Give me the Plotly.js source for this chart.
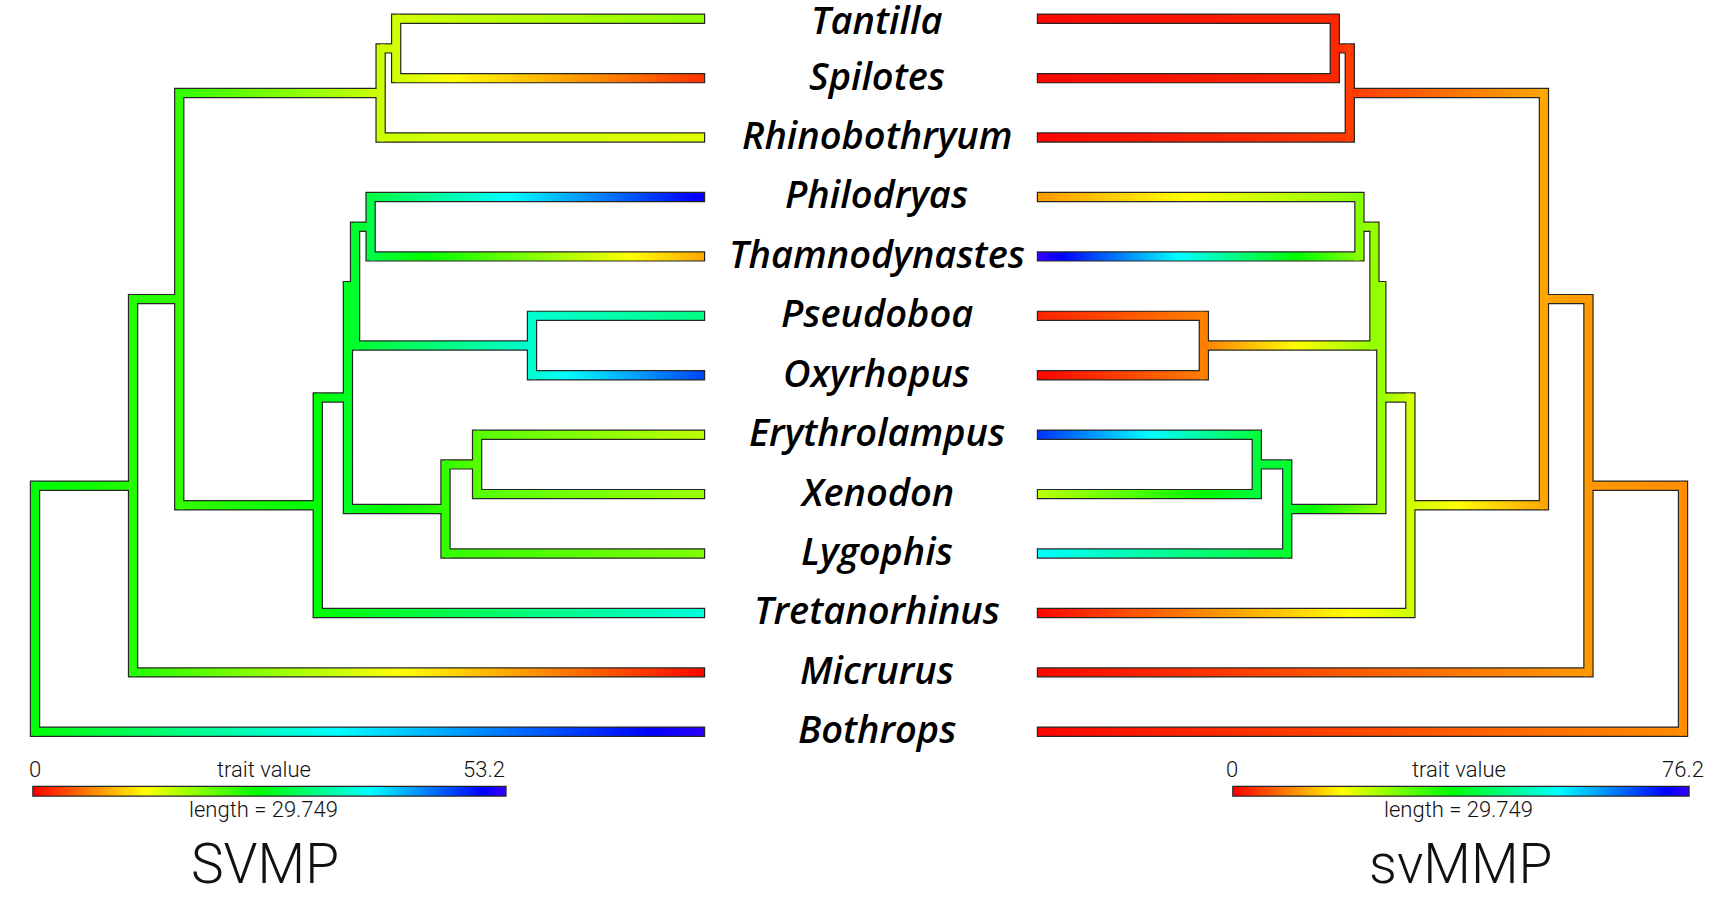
<!DOCTYPE html>
<html><head><meta charset="utf-8">
<script src="https://cdn.plot.ly/plotly-3.0.1.min.js"></script>
<style>html,body{margin:0;padding:0;background:#fff;}#chart{width:1718px;height:899px;}</style>
</head><body><div id="chart"></div>
<script>
// ---------------- data ----------------
const tipNames = ['Tantilla','Spilotes','Rhinobothryum','Philodryas','Thamnodynastes','Pseudoboa','Oxyrhopus','Erythrolampus','Xenodon','Lygophis','Tretanorhinus','Micrurus','Bothrops'];
const tipDepth = 42.16;
const nodeNames = ['root','nMic','nB','nC','nD','nE','nF','nG','nH','nI','nJ','nK'];
const nodeDepth = [0, 6.18, 9.09, 21.78, 22.76, 17.82, 19.72, 20.17, 21.15, 31.32, 25.87, 27.86];
const edgeParent = ['root','root','nMic','nMic','nB','nB','nC','nC','nD','nD','nE','nE','nF','nF','nG','nG','nH','nH','nI','nI','nJ','nJ','nK','nK'];
const edgeChild = ['nMic','Bothrops','nB','Micrurus','nC','nE','nD','Rhinobothryum','Tantilla','Spilotes','nF','Tretanorhinus','nG','nJ','nH','nI','Philodryas','Thamnodynastes','Pseudoboa','Oxyrhopus','nK','Lygophis','Erythrolampus','Xenodon'];
const svmpTips = [18.4, 2.5, 14.3, 51.3, 8.2, 31.8, 47.3, 16.0, 17.7, 19.0, 36.3, 0.3, 52.8];
const svmpNodes = [25.8, 23.6, 22.8, 15.2, 15.0, 25.5, 27.0, 27.6, 28.7, 35.7, 22.8, 21.1];
const svmmpTips = [0.3, 0.3, 0.3, 10.9, 76.2, 2.4, 0.2, 69.0, 23.0, 54.4, 0.4, 0.5, 0.3];
const svmmpNodes = [10.0, 10.9, 11.8, 4.2, 2.8, 21.5, 25.4, 25.8, 26.6, 9.1, 39.6, 40.5];
const svmpMax = 53.2;
const svmmpMax = 76.2;
const scaleLength = 29.749;
const traitNames = ['SVMP', 'svMMP'];

// ---------------- style / layout constants ----------------
const W = 1718, H = 899;
// pixel placement of each tree (root pixel, tip pixel)
const rootPxL = 35, tipPxL = 704, rootPxR = 1683, tipPxR = 1038;
const kL = (tipPxL - rootPxL) / tipDepth, kR = (rootPxR - tipPxR) / tipDepth;
const xRangeL = [-rootPxL / kL, (W - rootPxL) / kL];
const xRangeR = [rootPxR / kR, (rootPxR - W) / kR];
const firstTipPx = 18.7, lastTipPx = 731.8;
const tipStep = (lastTipPx - firstTipPx) / (tipNames.length - 1);
const yRange = [1 + (H - firstTipPx) / tipStep, 1 - firstTipPx / tipStep];
const rainbowScale = [[0,'#FF0000'],[60/252,'#FFFF00'],[120/252,'#00FF00'],[180/252,'#00FFFF'],[240/252,'#0000FF'],[1,'#3300FF']];
const pxX = r => Math.abs(r[1]-r[0]) / W;   // data units per pixel
const pxY = Math.abs(yRange[0]-yRange[1]) / H;

function hsv(v, max){
  const h = Math.max(0, Math.min(1, v/max)) * 252;
  const seg = h/60, i = Math.min(4, Math.floor(seg)), f = seg - i;
  let r,g,b;
  switch(i){
    case 0: r=1; g=f; b=0; break;
    case 1: r=1-f; g=1; b=0; break;
    case 2: r=0; g=1; b=f; break;
    case 3: r=0; g=1-f; b=1; break;
    default: r=f; g=0; b=1;
  }
  return 'rgb(' + Math.round(r*255) + ',' + Math.round(g*255) + ',' + Math.round(b*255) + ')';
}

function rect(x0, x1, y0, y1){ return {x:[x0,x1,x1,x0,x0], y:[y0,y0,y1,y1,y0]}; }

function buildTree(tipVals, nodeVals, vmax, axis, xr, barShift){
  const ux = pxX(xr), uy = pxY;
  const hyC = 4*uy, hyB = 5.2*uy, hxC = 4*ux, hxB = 5.2*ux;
  const isTip = n => tipNames.indexOf(n) >= 0;
  const depth = n => isTip(n) ? tipDepth : nodeDepth[nodeNames.indexOf(n)];
  const val = n => isTip(n) ? tipVals[tipNames.indexOf(n)] : nodeVals[nodeNames.indexOf(n)];
  const kids = n => edgeChild.filter((c,i) => edgeParent[i] === n);
  const yOf = n => isTip(n) ? tipNames.indexOf(n) + 1 : kids(n).map(yOf).reduce((a,b)=>a+b,0) / kids(n).length;
  const black = {x:[], y:[], xaxis:axis, yaxis:'y', mode:'lines', fill:'toself', fillcolor:'#262626', line:{width:0}, hoverinfo:'skip'};
  const horiz = [], vert = [];
  const push = (t, r) => { t.x.push(...r.x, null); t.y.push(...r.y, null); };
  edgeChild.forEach((c, i) => {
    const p = edgeParent[i];
    const dp = depth(p), dc = depth(c), y = yOf(c);
    const vp = val(p), vc = val(c);
    push(black, rect(dp, dc + (isTip(c) ? 1.2*ux : 0), y - hyB, y + hyB));
    const r = rect(dp, dc, y - hyC, y + hyC);
    const t = {x:r.x, y:r.y, xaxis:axis, yaxis:'y', mode:'lines', fill:'toself', line:{width:0}, hoverinfo:'skip'};
    if (Math.abs(vc - vp) < 0.05) {
      t.fillcolor = hsv(vp, vmax);
    } else {
      const s = (dc - dp) / (vc - vp);
      t.fillgradient = {type:'horizontal', colorscale: rainbowScale, start: dp + (0 - vp)*s, stop: dp + (vmax - vp)*s};
    }
    horiz.push(t);
  });
  nodeNames.forEach(n => {
    const ys = kids(n).map(yOf);
    const y0 = Math.min(...ys), y1 = Math.max(...ys), d = depth(n);
    push(black, rect(d - hxB, d + hxB, y0 - hyB, y1 + hyB));
    const r = rect(d - hxC, d + hxC, y0 - hyC, y1 + hyC);
    vert.push({x:r.x, y:r.y, xaxis:axis, yaxis:'y', mode:'lines', fill:'toself', fillcolor: hsv(val(n), vmax), line:{width:0}, hoverinfo:'skip'});
  });
  // colour bar (length = scaleLength branch-length units), red on the left of the page
  const ybar = 14.0;
  const leftIsZero = xr[0] < xr[1];
  const a = barShift, b = barShift + scaleLength;
  push(black, rect(a - 1.2*ux, b + 1.2*ux, ybar - 5.5*uy, ybar + 5.5*uy));
  const br = rect(a, b, ybar - 4.3*uy, ybar + 4.3*uy);
  const bar = {x:br.x, y:br.y, xaxis:axis, yaxis:'y', mode:'lines', fill:'toself', line:{width:0}, hoverinfo:'skip',
    fillgradient:{type:'horizontal', colorscale: rainbowScale, start: leftIsZero ? a : b, stop: leftIsZero ? b : a}};
  return [black].concat(horiz, vert, [bar]);
}

const traces = buildTree(svmpTips, svmpNodes, svmpMax, 'x', xRangeL, -0.1)
  .concat(buildTree(svmmpTips, svmmpNodes, svmmpMax, 'x2', xRangeR, -0.36));

const small = {family:'Roboto, Liberation Sans, sans-serif', size:22, color:'#111', weight:300};
const big = {family:'Roboto, Liberation Sans, sans-serif', size:55, color:'#111', weight:300};
const ann = [];
tipNames.forEach((t, i) => ann.push({xref:'paper', yref:'y', x:0.5102, y:i + 1 - (i === 0 ? 0 : 0.06), text:t, showarrow:false, xanchor:'center', yanchor:'middle',
  font:{family:'Open Sans, sans-serif', size:38, style:'italic', weight:600, color:'#000'}}));
// [axis, max, x of "0", x of centre texts, x of max label, anchor, trait name, x of trait name]
[['x', svmpMax, 0, 14.4, scaleLength, 'right', traitNames[0], 14.5],
 ['x2', svmmpMax, scaleLength - 0.3, 14.65, -1.5, 'right', traitNames[1], 14.55]]
.forEach(([ax, mx, x0, xm, xe, anch, name, xn]) => {
  ann.push({xref:ax, yref:'y', x:x0, y:13.63, text:'0', showarrow:false, xanchor:'center', yanchor:'middle', font:small});
  ann.push({xref:ax, yref:'y', x:xm, y:13.63, text:'trait value', showarrow:false, xanchor:'center', yanchor:'middle', font:small});
  ann.push({xref:ax, yref:'y', x:xe, y:13.63, text:String(mx), showarrow:false, xanchor:anch, yanchor:'middle', font:small});
  ann.push({xref:ax, yref:'y', x:xm, y:14.31, text:'length = ' + scaleLength, showarrow:false, xanchor:'center', yanchor:'middle', font:small});
  ann.push({xref:ax, yref:'y', x:xn, y:15.23, text:name, showarrow:false, xanchor:'center', yanchor:'middle', font:big});
});

const layout = {
  width:W, height:H, margin:{l:0,r:0,t:0,b:0,pad:0}, paper_bgcolor:'#fff', plot_bgcolor:'#fff', showlegend:false,
  xaxis:{range:xRangeL, visible:false, fixedrange:true},
  xaxis2:{range:xRangeR, visible:false, overlaying:'x', anchor:'y', fixedrange:true},
  yaxis:{range:yRange, visible:false, fixedrange:true},
  annotations: ann
};
Plotly.newPlot('chart', traces, layout, {displayModeBar:false, staticPlot:true});
</script></body></html>
